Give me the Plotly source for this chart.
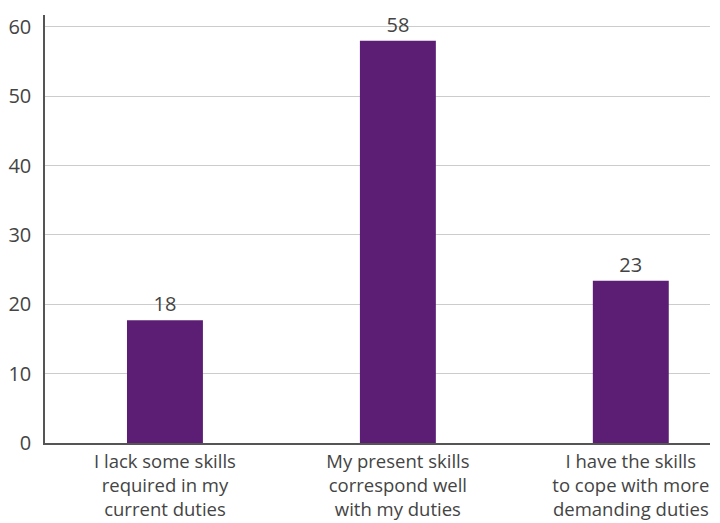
import plotly.graph_objects as go

categories = ["I lack some skills<br>required in my<br>current duties",
              "My present skills<br>correspond well<br>with my duties",
              "I have the skills<br>to cope with more<br>demanding duties"]
values = [17.7, 58.0, 23.4]
labels = ["18", "58", "23"]

fig = go.Figure(go.Bar(
    x=categories, y=values, text=labels, textposition="outside",
    marker_color="#5c1d74", marker_line_width=0, width=0.326, cliponaxis=False,
    textfont=dict(size=20, color="#444444"),
))
fig.update_layout(
    width=720, height=523,
    margin=dict(l=45, r=10, t=15, b=80),
    plot_bgcolor="white", paper_bgcolor="white",
    font=dict(family="Open Sans, sans-serif", size=18.5, color="#444444"),
    showlegend=False,
)
fig.update_xaxes(range=[-0.515, 2.34], showline=True, linecolor="#555555", linewidth=1.5,
                 showgrid=False, ticks="", tickfont=dict(size=18.5), ticklabelstandoff=1,
                 automargin=False)
fig.update_yaxes(range=[0, 61.7], tickvals=[0, 10, 20, 30, 40, 50, 60],
                 showline=True, linecolor="#555555", linewidth=1.5,
                 showgrid=True, gridcolor="#cccccc", gridwidth=1,
                 zeroline=False, ticks="", ticklabelstandoff=8, tickfont=dict(size=20),
                 automargin=False)
fig.write_html("out.html", config={"displayModeBar": False},
               post_script="document.body.style.margin='0';document.body.style.overflow='hidden';")
